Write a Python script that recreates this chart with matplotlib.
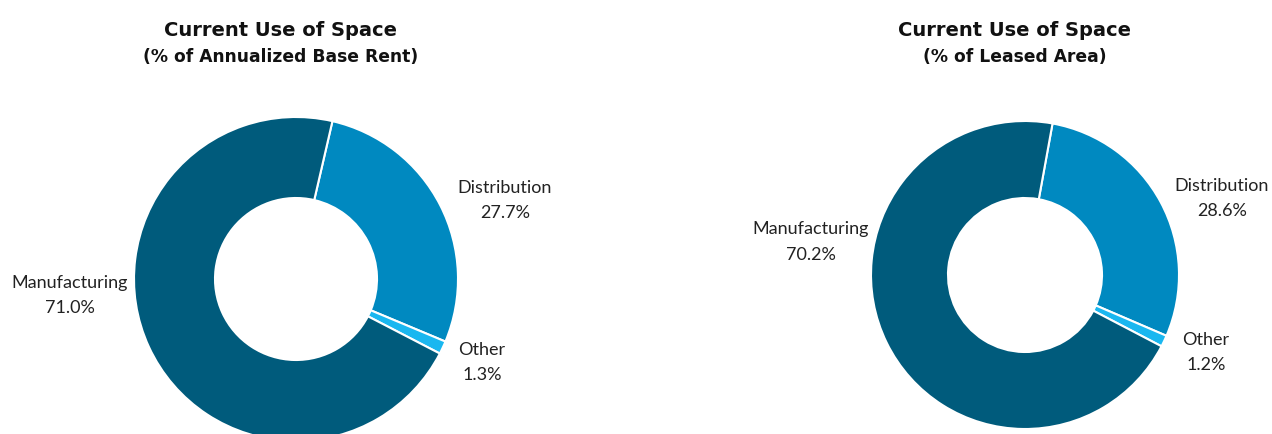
import matplotlib.pyplot as plt

categories = ['Distribution', 'Other', 'Manufacturing']
rent_share = [27.7, 1.3, 71.0]
area_share = [28.6, 1.2, 70.2]
colors = ['#0089c0', '#1ab7f0', '#005b7c']

W, H = 1272, 435
fig = plt.figure(figsize=(W / 100, H / 100), dpi=100)

label_font = ['Lato', 'DejaVu Sans']
title_font = ['DejaVu Sans']


def donut(cx, cy, r, values, start, label_pos, title, subtitle, tx):
    ax = fig.add_axes([(cx - r) / W, (H - cy - r) / H, 2 * r / W, 2 * r / H])
    ax.pie(values, colors=colors, startangle=start, counterclock=False,
           radius=1, wedgeprops=dict(width=0.5, edgecolor='white', linewidth=1.5))
    ax.set_xlim(-1, 1)
    ax.set_ylim(-1, 1)
    ax.set_aspect('equal')
    ax.axis('off')
    for name, val in zip(categories, values):
        x, y = label_pos[name]
        ax.text(x, y, f'{name}\n{val:.1f}%', ha='center', va='center',
                fontsize=13, color='#222222', family=label_font,
                linespacing=1.7, clip_on=False)
    fig.text(tx / W, 1 - 30 / H, title, ha='center', va='center',
             fontsize=14, fontweight='bold', family=title_font, color='#111111')
    fig.text(tx / W, 1 - 57 / H, subtitle, ha='center', va='center',
             fontsize=12.3, fontweight='bold', family=title_font, color='#111111')


donut(296, 280, 162, rent_share, 77,
      {'Manufacturing': (-1.395, -0.093), 'Distribution': (1.29, 0.488),
       'Other': (1.148, -0.512)},
      'Current Use of Space', '(% of Annualized Base Rent)', 281)

donut(1025, 276, 154, area_share, 79.7,
      {'Manufacturing': (-1.39, 0.221), 'Distribution': (1.279, 0.506),
       'Other': (1.175, -0.494)},
      'Current Use of Space', '(% of Leased Area)', 1015)

fig.savefig('out.png', dpi=100)
